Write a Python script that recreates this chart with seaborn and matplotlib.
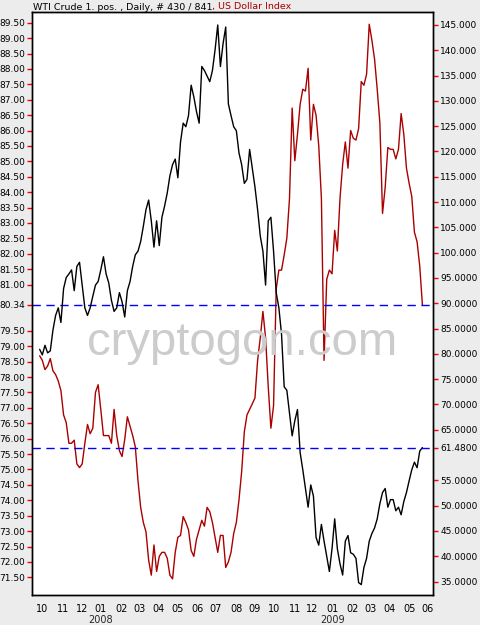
import numpy as np
import pandas as pd
import matplotlib
matplotlib.use("Agg")
import matplotlib.pyplot as plt
import matplotlib.transforms as mtransforms
import seaborn as sns

# one value every third trading day, first one on 2007-09-26
STEP = 3
crude = [
    80.9, 79.8, 81.7, 80.2, 80.6, 84.7, 87.6, 89.1, 86.2, 92.9,
    95.1, 95.8, 96.6, 92.5, 97.3, 98.1, 93.6, 89.1, 87.6, 89.1,
    91.4, 93.6, 94.3, 96.6, 99.2, 95.8, 94.0, 90.6, 88.4, 89.1,
    92.1, 90.3, 87.3, 92.5, 94.3, 97.3, 99.6, 100.3, 102.2, 105.2,
    108.5, 110.4, 106.3, 101.1, 106.3, 101.4, 107.0, 109.2, 111.8, 115.2,
    117.4, 118.5, 114.8, 121.9, 125.6, 124.9, 127.1, 133.1, 130.8, 127.9,
    125.6, 136.8, 136.0, 134.9, 133.8, 136.0, 140.1, 145.0, 136.8, 141.3,
    144.6, 129.4, 127.1, 124.9, 124.1, 119.7, 117.4, 113.7, 114.5, 120.4,
    116.7, 113.0, 108.5, 103.3, 100.3, 93.6, 106.3, 107.0, 100.3, 92.1,
    89.1, 83.9, 73.5, 72.8, 68.3, 63.8, 66.8, 69.0, 60.5, 57.1,
    53.4, 49.7, 54.1, 51.9, 43.7, 42.2, 46.3, 43.0, 40.0, 37.0,
    41.5, 47.4, 41.5, 38.5, 36.3, 43.0, 44.1, 40.7, 40.4, 39.6,
    34.8, 34.4, 37.8, 39.6, 43.0, 44.5, 45.6, 47.4, 50.4, 52.6,
    53.4, 49.7, 51.2, 51.2, 49.0, 49.7, 48.2, 50.8, 52.6, 54.9,
    57.1, 58.6, 57.5, 60.8, 61.48,
]
usd = [
    78.69, 78.54, 78.24, 78.36, 78.60, 78.20, 78.08, 77.87, 77.56, 76.77,
    76.52, 75.85, 75.85, 75.95, 75.18, 75.06, 75.18, 75.85, 76.46, 76.16,
    76.34, 77.50, 77.75, 76.95, 76.10, 76.10, 76.10, 75.85, 76.95, 76.10,
    75.61, 75.42, 75.97, 76.71, 76.40, 76.10, 75.73, 74.63, 73.77, 73.28,
    72.98, 72.06, 71.57, 72.55, 71.69, 72.18, 72.31, 72.31, 72.12, 71.57,
    71.45, 72.31, 72.80, 72.86, 73.47, 73.28, 73.04, 72.37, 72.18, 72.73,
    73.04, 73.35, 73.16, 73.77, 73.63, 73.28, 72.80, 72.31, 72.86, 72.86,
    71.82, 72.00, 72.31, 72.92, 73.28, 74.02, 74.93, 76.22, 76.77, 76.95,
    77.13, 77.32, 78.54, 79.27, 80.13, 79.27, 77.69, 76.34, 77.07, 80.86,
    81.47, 81.47, 81.96, 82.51, 83.80, 86.73, 85.02, 85.88, 86.85, 87.34,
    87.28, 88.02, 85.69, 86.85, 86.49, 85.51, 83.80, 78.54, 81.17, 81.47,
    81.35, 82.76, 82.09, 83.80, 84.90, 85.63, 84.78, 86.00, 85.75, 85.69,
    86.06, 87.59, 87.47, 87.83, 89.45, 88.93, 88.32, 87.34, 86.24, 83.31,
    84.16, 85.45, 85.39, 85.39, 85.08, 85.39, 86.55, 85.88, 84.78, 84.29,
    83.86, 82.70, 82.39, 81.60, 80.34,
]
title_black = "WTI Crude 1. pos. , Daily, # 430 / 841"
title_red = ", US Dollar Index"
watermark = "cryptogon.com"

sns.set_style("white")
plt.rcParams["font.family"] = ["DejaVu Sans"]

dates = pd.bdate_range("2007-09-26", "2009-06-05")
df = pd.DataFrame({"day": np.arange(len(crude)) * STEP, "crude": crude, "usd": usd})

# first trading day of every month -> x tick
month_start = [i for i in range(1, len(dates)) if dates[i].month != dates[i - 1].month]
month_lab = [dates[i].strftime("%m") for i in month_start]

fig = plt.figure(figsize=(4.8, 6.25), dpi=100, facecolor="#ECECEC")
ax = fig.add_axes([0.0673, 0.048, 0.8354, 0.9333])
ax.set_facecolor("white")
ax2 = ax.twinx()

sns.lineplot(data=df, x="day", y="usd", ax=ax, color="#AA0000", linewidth=1.0)
sns.lineplot(data=df, x="day", y="crude", ax=ax2, color="black", linewidth=1.0)

dash = (0, (6, 4))
ax.axhline(usd[-1], color="#0000FF", linestyle=dash, linewidth=1)
ax2.axhline(crude[-1], color="#0000FF", linestyle=dash, linewidth=1)

ax.set_xlim(-8.3, 444.3)
ax.set_ylim(70.926, 89.857)
ax2.set_ylim(32.35, 147.63)

# left axis (dollar index), labels near the last value are dropped
lt = [v for v in np.arange(71.5, 89.51, 0.5) if abs(v - usd[-1]) > 0.4] + [usd[-1]]
ax.set_yticks(lt)
ax.set_yticklabels(["%.2f" % v for v in lt])
ax.get_yticklabels()[-1].set_color("#008080")

rt = [v for v in np.arange(35, 145.1, 5) if abs(v - crude[-1]) > 2] + [crude[-1]]
ax2.set_yticks(rt)
ax2.set_yticklabels([("%.3f" % v) if v >= 100 else ("%.4f" % v) for v in rt])
ax2.get_yticklabels()[-1].set_color("#0000FF")

ax.set_xticks(month_start)
ax.set_xticklabels(month_lab)
ax.set_xlabel("")
ax.set_ylabel("")
ax2.set_ylabel("")

for a in (ax, ax2):
    a.tick_params(color="#FF0000", labelcolor="black", length=3.5, width=1,
                  direction="out", labelsize=6.5, pad=1.5)
    for s in a.spines.values():
        s.set_color("black")
        s.set_linewidth(1)
ax.tick_params(axis="x", pad=3, labelsize=7)

blend = mtransforms.blended_transform_factory(ax.transData, ax.transAxes)
for i in month_start:
    if dates[i].month == 1:
        ax.text(i, -0.043, str(dates[i].year), transform=blend, ha="center",
                va="center", fontsize=7)

fig.text(0.5035, 0.4326, watermark, fontsize=34, color="#CCCCCC", ha="center",
         va="baseline", family="Liberation Sans", zorder=0)

t1 = fig.text(33 / 480, 1 - 9.5 / 625, title_black, fontsize=6.8, color="black",
              va="baseline")
fig.canvas.draw()
bb = t1.get_window_extent()
fig.text(bb.x1 / 480, 1 - 9.5 / 625, title_red, fontsize=6.8, color="#AA0000",
         va="baseline")

fig.savefig("out.png", dpi=100, facecolor=fig.get_facecolor())
